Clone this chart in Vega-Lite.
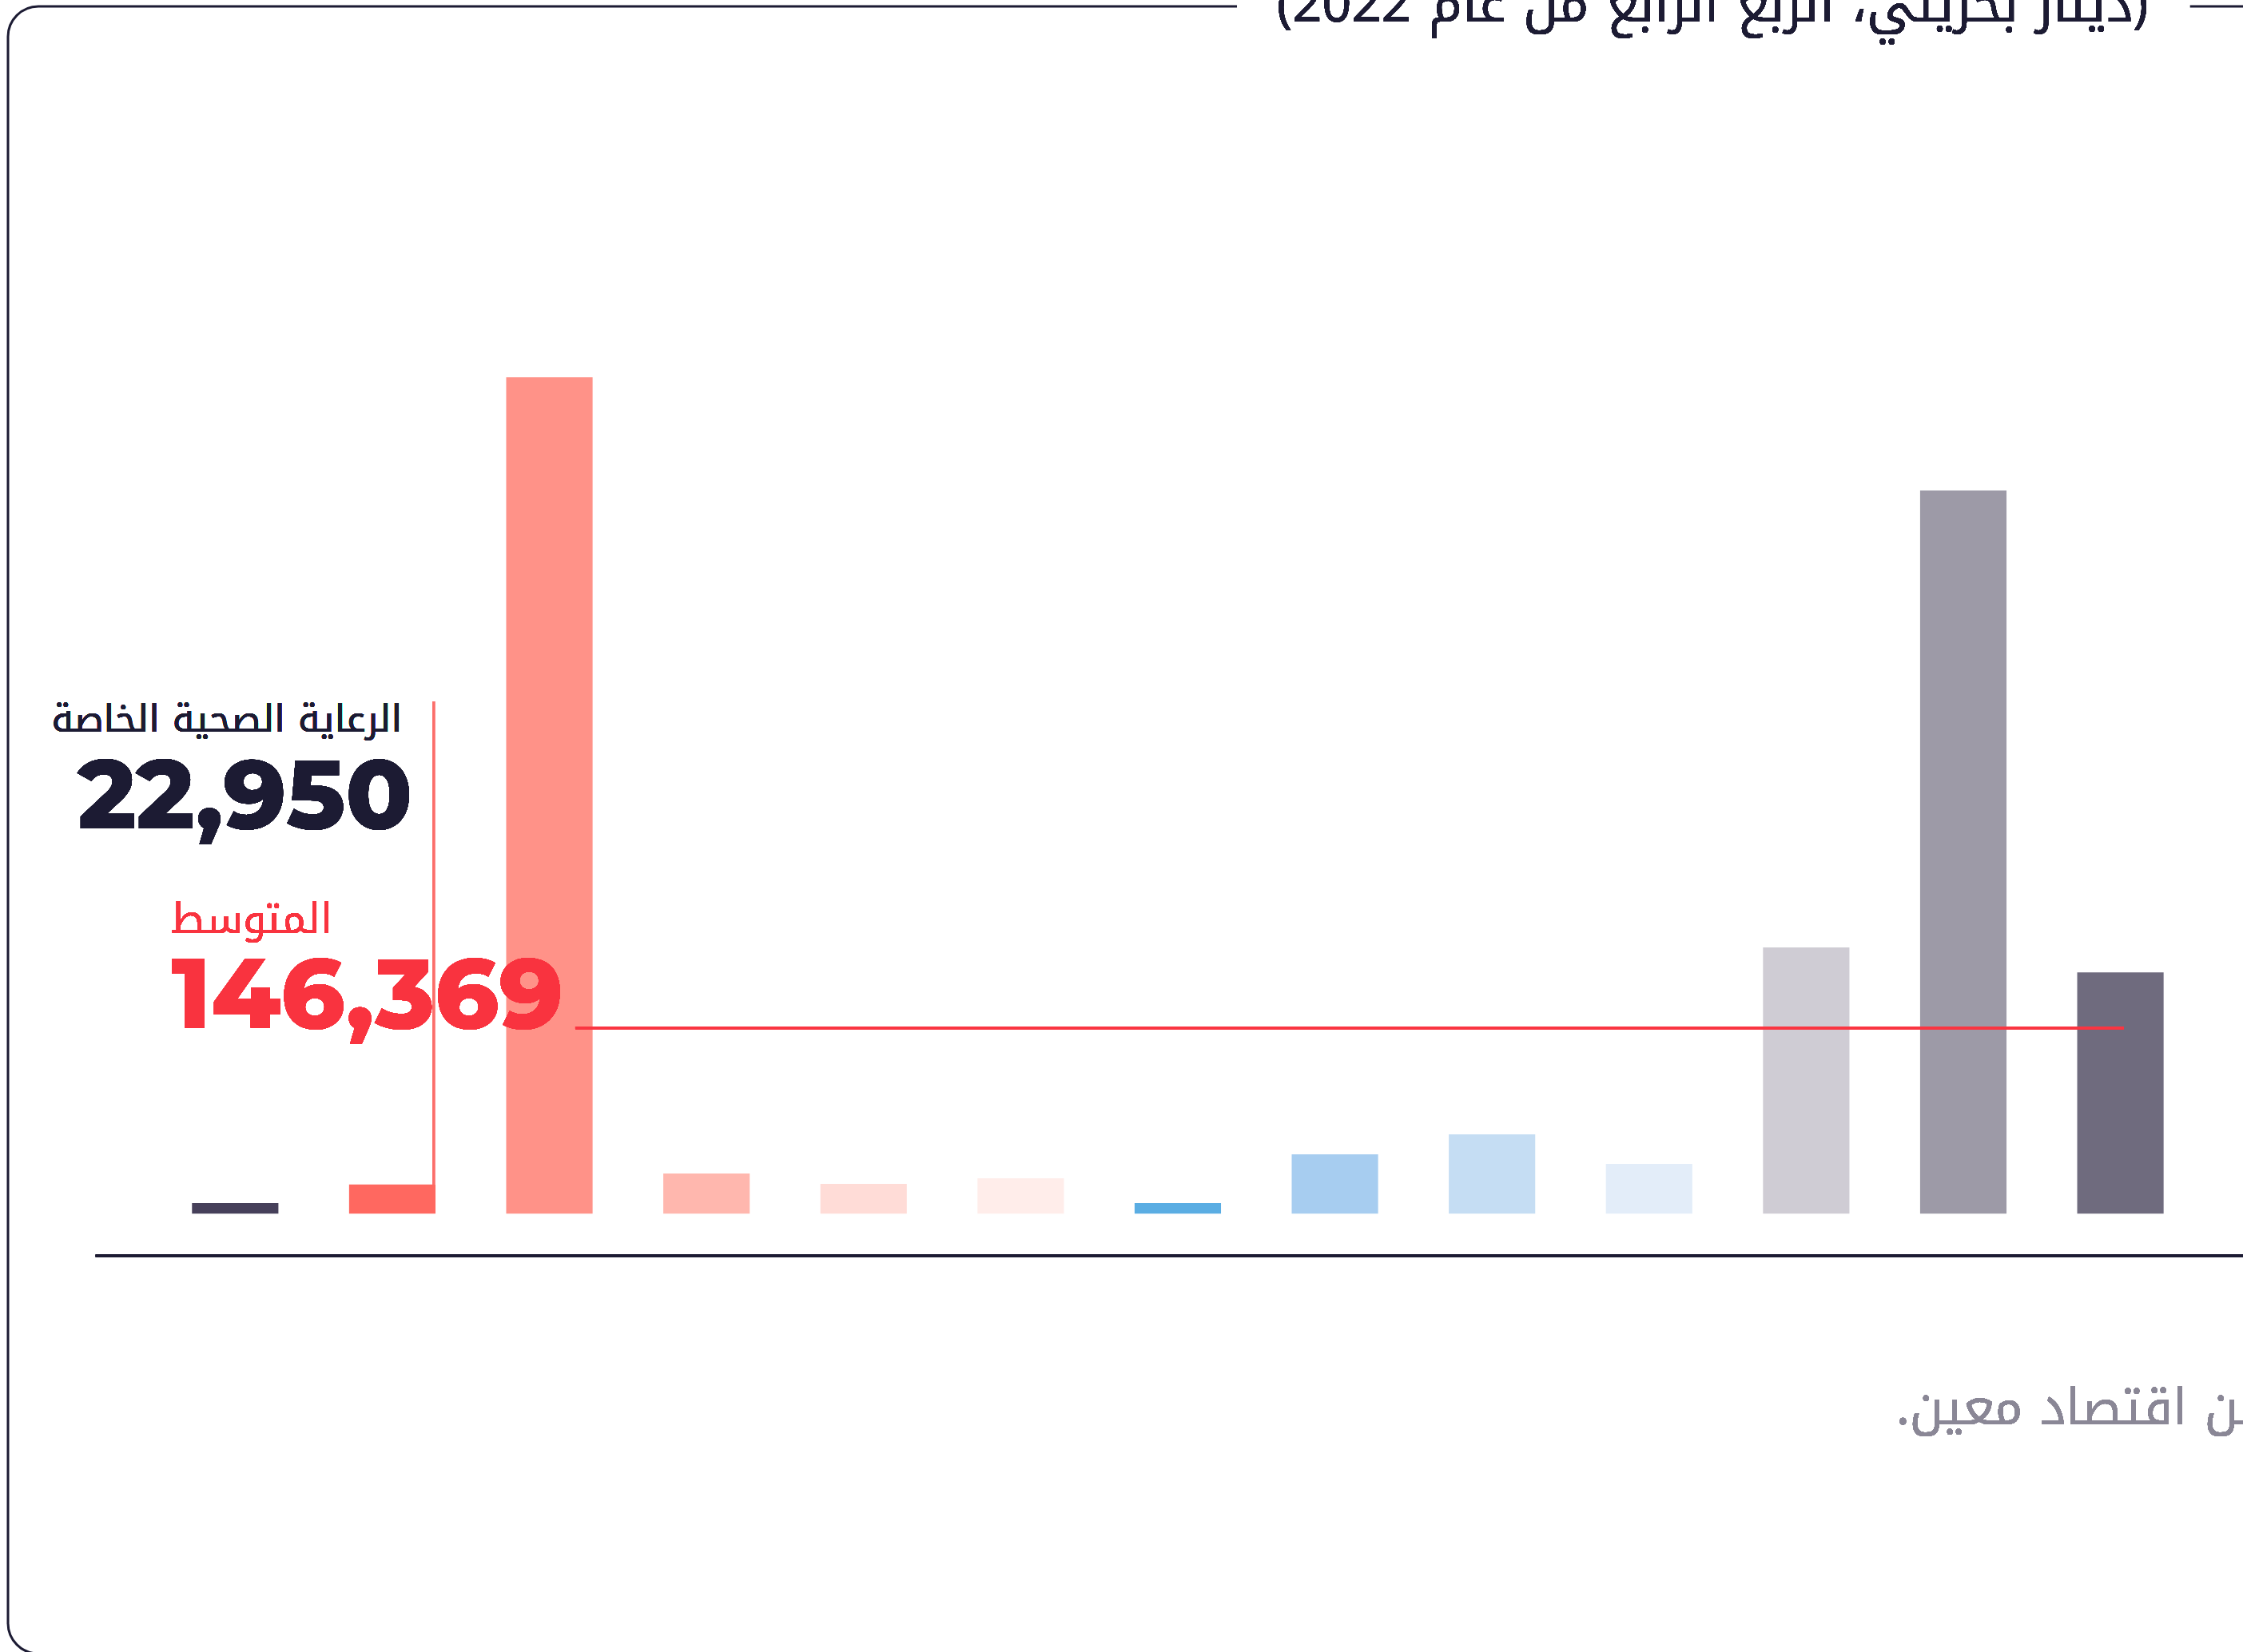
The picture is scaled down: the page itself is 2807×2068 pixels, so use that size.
{
  "$schema": "https://vega.github.io/schema/vega-lite/v6.json",
  "width": 2837,
  "height": 2062,
  "autosize": {"type": "none"},
  "padding": {"left": 10, "top": 8, "right": -40, "bottom": -2},
  "background": "white",
  "config": {"view": {"stroke": "#1c1b33", "strokeWidth": 3, "cornerRadius": 38}},
  "data": {
    "values": [
      {"sector": "s01", "value": 8370},
      {"sector": "s02", "value": 22950},
      {"sector": "s03", "value": 658850},
      {"sector": "s04", "value": 31650},
      {"sector": "s05", "value": 23470},
      {"sector": "s06", "value": 27880},
      {"sector": "s07", "value": 8370},
      {"sector": "s08", "value": 46760},
      {"sector": "s09", "value": 62490},
      {"sector": "s10", "value": 39210},
      {"sector": "s11", "value": 209740},
      {"sector": "s12", "value": 569680},
      {"sector": "s13", "value": 190050}
    ]
  },
  "layer": [
    {
      "mark": {"type": "bar"},
      "encoding": {
        "x": {"field": "sector", "type": "nominal", "sort": "ascending", "axis": null,
              "scale": {"paddingInner": 0.45, "paddingOuter": 0.94, "align": 0.623}},
        "y": {"field": "value", "type": "quantitative", "axis": null,
              "scale": {"domain": [-346540, 951000], "zero": false, "nice": false}},
        "color": {"field": "sector", "type": "nominal", "sort": "ascending", "legend": null,
                  "scale": {"range": ["#46405a", "#ff6860", "#ff9288", "#ffb7ae", "#ffdcd7", "#ffedea", "#5aade3", "#a7cdf0", "#c5ddf3", "#e3edf9", "#cfccd4", "#9d9aa7", "#6f6b7e"]}}
      }
    },
    {
      "mark": {"type": "rule", "color": "#1c1b33", "strokeWidth": 3},
      "encoding": {
        "x": {"datum": "s01", "type": "nominal", "bandPosition": -1.114},
        "x2": {"datum": "s13", "bandPosition": 2},
        "y": {"datum": -33160, "type": "quantitative"}
      }
    },
    {
      "mark": {"type": "rule", "color": "#ffffff", "strokeWidth": 10},
      "encoding": {
        "x": {"datum": "s07", "type": "nominal", "bandPosition": 1.19},
        "x2": {"datum": "s13", "bandPosition": 1.3},
        "y": {"datum": 951000, "type": "quantitative"}
      }
    },
    {
      "mark": {"type": "rule", "color": "#fb6e6a", "strokeWidth": 2.5},
      "encoding": {
        "x": {"datum": "s02", "type": "nominal", "bandPosition": 0.98},
        "y": {"datum": 22950, "type": "quantitative"},
        "y2": {"datum": 403550}
      }
    },
    {
      "mark": {"type": "rule", "color": "#fa3541", "strokeWidth": 3.5},
      "encoding": {
        "x": {"datum": "s03", "type": "nominal", "bandPosition": 0.8},
        "x2": {"datum": "s13", "bandPosition": 0.54},
        "y": {"datum": 146369, "type": "quantitative"}
      }
    },
    {
      "mark": {"type": "text", "text": "الرعاية الصحية الخاصة", "align": "right", "baseline": "alphabetic",
               "font": "Noto Kufi Arabic, Noto Sans Arabic, DejaVu Sans, sans-serif", "fontSize": 47, "color": "#1c1b33", "dx": -42},
      "encoding": {
        "x": {"datum": "s02", "type": "nominal", "bandPosition": 1},
        "y": {"datum": 379640, "type": "quantitative"}
      }
    },
    {
      "mark": {"type": "text", "text": "22,950", "align": "right", "baseline": "alphabetic",
               "font": "Montserrat, Inter, sans-serif", "fontWeight": 800, "fontSize": 122, "color": "#1c1b33", "dx": -29},
      "encoding": {
        "x": {"datum": "s02", "type": "nominal", "bandPosition": 1},
        "y": {"datum": 303500, "type": "quantitative"}
      }
    },
    {
      "mark": {"type": "text", "text": "المتوسط", "align": "left", "baseline": "alphabetic",
               "font": "Noto Kufi Arabic, Noto Sans Arabic, DejaVu Sans, sans-serif", "fontSize": 52, "color": "#f9333f", "dx": -26},
      "encoding": {
        "x": {"datum": "s01", "type": "nominal", "bandPosition": 0},
        "y": {"datum": 221060, "type": "quantitative"}
      }
    },
    {
      "mark": {"type": "text", "text": "146,369", "align": "left", "baseline": "alphabetic",
               "font": "Montserrat, Inter, sans-serif", "fontWeight": 800, "fontSize": 124, "color": "#f9333f", "dx": -26},
      "encoding": {
        "x": {"datum": "s01", "type": "nominal", "bandPosition": 0},
        "y": {"datum": 146369, "type": "quantitative"}
      }
    },
    {
      "mark": {"type": "text", "text": "(دينار بحريني، الربع الرابع من عام 2022)", "align": "right", "baseline": "alphabetic",
               "font": "Noto Kufi Arabic, Noto Sans Arabic, DejaVu Sans, sans-serif", "fontSize": 65, "color": "#1c1b33", "dx": 89},
      "encoding": {
        "x": {"datum": "s13", "type": "nominal", "bandPosition": 0},
        "y": {"datum": 939000, "type": "quantitative"}
      }
    },
    {
      "mark": {"type": "text", "text": ".من اقتصاد معين", "align": "left", "baseline": "alphabetic",
               "font": "Noto Kufi Arabic, Noto Sans Arabic, DejaVu Sans, sans-serif", "fontSize": 63, "color": "#8a8796", "dx": -30},
      "encoding": {
        "x": {"datum": "s12", "type": "nominal", "bandPosition": 0},
        "y": {"datum": -165940, "type": "quantitative"}
      }
    }
  ]
}
